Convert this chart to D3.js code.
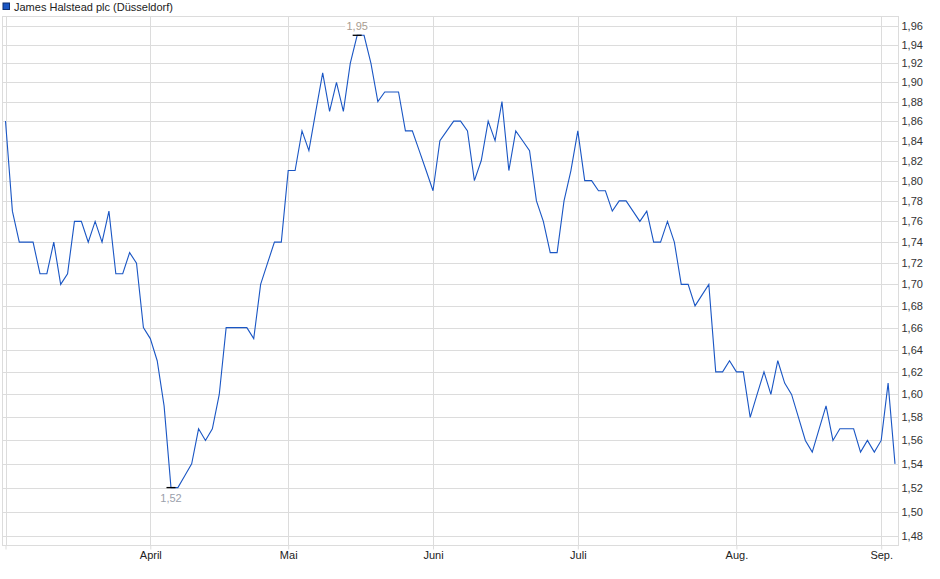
<!DOCTYPE html>
<html>
<head>
<meta charset="utf-8">
<script src="https://cdn.jsdelivr.net/npm/d3@7/dist/d3.min.js"></script>
<style>
  html, body { margin: 0; padding: 0; background: #fff; }
  svg { display: block; font-family: "Liberation Sans", Arial, sans-serif; }
</style>
</head>
<body>
<svg id="chart" width="940" height="579"></svg>
<script>
// ---- data ----
const seriesName = "James Halstead plc (Düsseldorf)";
const prices = [
  1.86, 1.77, 1.74, 1.74, 1.74, 1.71, 1.71, 1.74, 1.70, 1.71,
  1.76, 1.76, 1.74, 1.76, 1.74, 1.77, 1.71, 1.71, 1.73, 1.72,
  1.66, 1.65, 1.63, 1.59, 1.52, 1.52, 1.53, 1.54, 1.57, 1.56,
  1.57, 1.60, 1.66, 1.66, 1.66, 1.66, 1.65, 1.70, 1.72, 1.74,
  1.74, 1.81, 1.81, 1.85, 1.83, 1.87, 1.91, 1.87, 1.90, 1.87,
  1.92, 1.95, 1.95, 1.92, 1.88, 1.89, 1.89, 1.89, 1.85, 1.85,
  1.83, 1.81, 1.79, 1.84, 1.85, 1.86, 1.86, 1.85, 1.80, 1.82,
  1.86, 1.84, 1.88, 1.81, 1.85, 1.84, 1.83, 1.78, 1.76, 1.73,
  1.73, 1.78, 1.81, 1.85, 1.80, 1.80, 1.79, 1.79, 1.77, 1.78,
  1.78, 1.77, 1.76, 1.77, 1.74, 1.74, 1.76, 1.74, 1.70, 1.70,
  1.68, 1.69, 1.70, 1.62, 1.62, 1.63, 1.62, 1.62, 1.58, 1.60,
  1.62, 1.60, 1.63, 1.61, 1.60, 1.58, 1.56, 1.55, 1.57, 1.59,
  1.56, 1.57, 1.57, 1.57, 1.55, 1.56, 1.55, 1.56, 1.61, 1.54
];
const monthTickIndex = [0, 21, 41, 62, 83, 106, 127];
const monthTickLabels = ["", "April", "Mai", "Juni", "Juli", "Aug.", "Sep."];
const yTickValues = [1.48, 1.50, 1.52, 1.54, 1.56, 1.58, 1.60, 1.62, 1.64, 1.66,
  1.68, 1.70, 1.72, 1.74, 1.76, 1.78, 1.80, 1.82, 1.84, 1.86, 1.88, 1.90,
  1.92, 1.94, 1.96];

// ---- layout ----
const frame = { left: 2.5, right: 898.5, top: 16.5, bottom: 545.5 };
const gridColor = "#dcdcdc";
const lineColor = "#1a56c4";
const fmt = v => d3.format(".2f")(v).replace(".", ",");

const svg = d3.select("#chart");

const x = d3.scaleLinear().domain([0, prices.length - 1]).range([5.5, 895]);
const y = d3.scaleLog().domain([1.48, 1.96]).range([536, 26]);

// frame
svg.append("rect")
  .attr("x", frame.left).attr("y", frame.top)
  .attr("width", frame.right - frame.left).attr("height", frame.bottom - frame.top)
  .attr("fill", "none").attr("stroke", gridColor).attr("stroke-width", 1);

// horizontal grid via axis
const yAxis = d3.axisRight(y)
  .tickValues(yTickValues)
  .tickSize(0)
  .tickFormat(fmt);
const gy = svg.append("g")
  .attr("transform", `translate(${frame.right + 3},0)`)
  .call(yAxis);
gy.select(".domain").remove();
gy.selectAll("text")
  .attr("x", 0)
  .attr("font-size", 11)
  .attr("font-family", "'Liberation Sans', Arial, sans-serif")
  .attr("fill", "#333");

svg.append("g").selectAll("line")
  .data(yTickValues).join("line")
  .attr("x1", frame.left).attr("x2", frame.right)
  .attr("y1", d => Math.round(y(d)) + 0.5).attr("y2", d => Math.round(y(d)) + 0.5)
  .attr("stroke", gridColor).attr("stroke-width", 1);

// vertical grid + bottom axis
const xAxis = d3.axisBottom(x)
  .tickValues(monthTickIndex)
  .tickSize(4)
  .tickFormat((d, i) => monthTickLabels[i]);
const gx = svg.append("g")
  .attr("transform", `translate(0,${frame.bottom})`)
  .call(xAxis);
gx.select(".domain").remove();
gx.selectAll(".tick line").attr("stroke", gridColor);
gx.selectAll("text")
  .attr("y", 6)
  .attr("font-size", 11)
  .attr("font-family", "'Liberation Sans', Arial, sans-serif")
  .attr("fill", "#222");

svg.append("g").selectAll("line")
  .data(monthTickIndex).join("line")
  .attr("x1", d => Math.round(x(d)) + 0.5).attr("x2", d => Math.round(x(d)) + 0.5)
  .attr("y1", frame.top).attr("y2", frame.bottom)
  .attr("stroke", gridColor).attr("stroke-width", 1);

// price line
const line = d3.line()
  .x((d, i) => x(i))
  .y(d => y(d));
svg.append("path")
  .datum(prices)
  .attr("d", line)
  .attr("fill", "none")
  .attr("stroke", lineColor)
  .attr("stroke-width", 1.1);

// min / max annotations
const iMax = d3.maxIndex(prices);
const iMin = d3.minIndex(prices);

function marker(i) {
  svg.append("line")
    .attr("x1", x(i) - 4.5).attr("x2", x(i) + 4.5)
    .attr("y1", y(prices[i])).attr("y2", y(prices[i]))
    .attr("stroke", "#000").attr("stroke-width", 1.3);
}
marker(iMax);
marker(iMin);

const maxLbl = svg.append("g").attr("transform", `translate(${x(iMax)},${y(prices[iMax]) - 9})`);
maxLbl.append("rect").attr("x", -12).attr("y", -6).attr("width", 24).attr("height", 12).attr("fill", "#fff");
maxLbl.append("text").attr("text-anchor", "middle").attr("dy", "0.36em")
  .attr("font-size", 11).attr("fill", "#a89c90").text(fmt(prices[iMax]));

const minLbl = svg.append("g").attr("transform", `translate(${x(iMin)},${y(prices[iMin]) + 10.5})`);
minLbl.append("rect").attr("x", -12).attr("y", -6).attr("width", 24).attr("height", 12).attr("fill", "#fff");
minLbl.append("text").attr("text-anchor", "middle").attr("dy", "0.36em")
  .attr("font-size", 11).attr("fill", "#9aa0ab").text(fmt(prices[iMin]));

// legend
svg.append("rect")
  .attr("x", 3).attr("y", 3).attr("width", 6.5).attr("height", 6.5)
  .attr("fill", "#1a56c4").attr("stroke", "#0d2f70").attr("stroke-width", 1);
svg.append("text")
  .attr("x", 14).attr("y", 10.5)
  .attr("font-size", 11).attr("fill", "#222")
  .text(seriesName);
</script>
</body>
</html>
